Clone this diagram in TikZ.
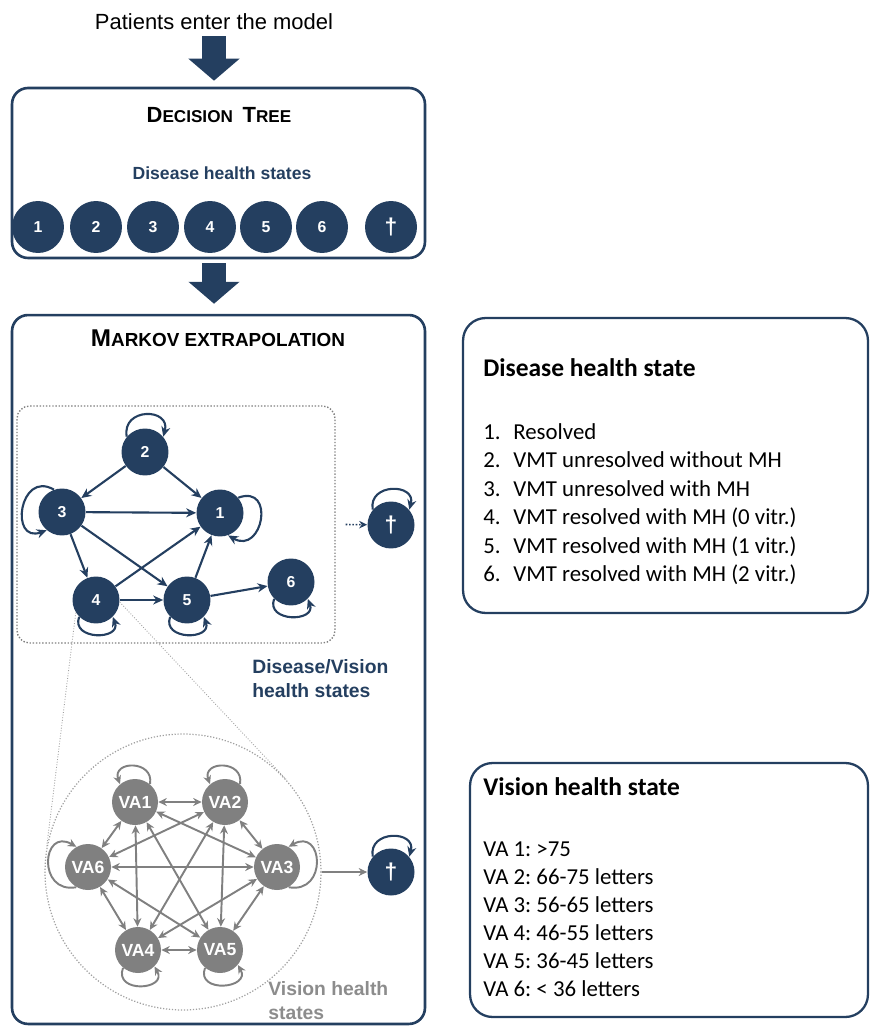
\documentclass[tikz,border=0pt]{standalone}
\usepackage{fontspec}
\setmainfont{Liberation Sans}
\newfontfamily\calibri{Carlito}
\usetikzlibrary{arrows.meta, positioning}

\definecolor{navy}{HTML}{243F60}
\definecolor{vagray}{HTML}{808080}
\definecolor{dotgray}{HTML}{A0A0A0}
\definecolor{labelgray}{HTML}{8C8C8C}

\newcommand{\capsc}[3][12.5]{{\fontsize{#1}{14}\selectfont #2}{\fontsize{\fpeval{0.78*#1}}{12}\selectfont #3}}
\newcommand{\numitem}[2]{\makebox[0.6cm][l]{#1}#2}

\begin{document}
\begin{tikzpicture}[
    x=0.02cm, y=-0.02cm,
    bigbox/.style={draw=navy, line width=1.5pt, rounded corners=0.32cm, minimum width=8.26cm},
    legend/.style={draw=navy, line width=1.3pt, rounded corners=0.45cm},
    state/.style={circle, fill=navy, text=white, inner sep=0, minimum size=1.04cm, font=\bfseries\fontsize{9}{9}\selectfont},
    mstate/.style={state, minimum size=0.94cm},
    vastate/.style={circle, fill=vagray, text=white, inner sep=0, minimum size=0.92cm, font=\bfseries\fontsize{10}{10}\selectfont},
    bigarrow/.style={navy, line width=0.48cm, -{Triangle[length=0.44cm, width=1cm]}},
    arrow/.style={navy, line width=1.2pt, -{Stealth[length=2mm, width=1.8mm]}},
    dotarrow/.style={navy, line width=0.9pt, densely dotted, -{Stealth[length=1.6mm, width=1.5mm]}},
    vaarrow/.style={vagray, line width=1.1pt, {Stealth[length=1.7mm, width=1.6mm]}-{Stealth[length=1.7mm, width=1.6mm]}},
    valoop/.style={vagray, line width=1.1pt, -{Stealth[length=1.7mm, width=1.6mm]}},
    zoomline/.style={dotgray, line width=0.5pt, densely dotted},
    textstyle/.style={inner sep=0, anchor=north west, align=left}
]
\useasboundingbox (0,0) rectangle (870,1026);

% Entry
\node[font=\fontsize{12.5}{15}\selectfont] (entry) at (214,22) {Patients enter the model};

% Decision tree
\node[bigbox, minimum height=3.4cm] (dtree) at (218.5,173) {};
\node[font=\bfseries] (dtitle) at (219,115) {\capsc{D}{ECISION}\ \ \capsc{T}{REE}};
\node[font=\bfseries\fontsize{10}{12}\selectfont, text=navy] (dlabel) at (222,173) {Disease health states};
\node[state] (d1) at (38,227) {\raisebox{-2pt}{1}};
\node[state] (d2) at (96,227) {\raisebox{-2pt}{2}};
\node[state] (d3) at (153,227) {\raisebox{-2pt}{3}};
\node[state] (d4) at (210,227) {\raisebox{-2pt}{4}};
\node[state] (d5) at (266,227) {\raisebox{-2pt}{5}};
\node[state] (d6) at (322,227) {\raisebox{-2pt}{6}};
\node[state, font=\bfseries\fontsize{13}{13}\selectfont] (dD) at (391,227) {\textdagger};
\draw[bigarrow, shorten >=0.12cm] (entry.south) -- (entry.south |- dtree.north);

% Markov extrapolation
\node[bigbox, minimum height=14.18cm] (markov) at (218.5,669.5) {};
\draw[bigarrow, shorten <=0.08cm, shorten >=0.2cm] (entry.south |- dtree.south) -- (entry.south |- markov.north);
\node[font=\bfseries] (mtitle) at (218,338) {\capsc[13.8]{M}{ARKOV EXTRAPOLATION}};
\node[draw=gray, densely dotted, line width=0.8pt, rounded corners=0.25cm, minimum width=6.36cm, minimum height=4.74cm] (dbox) at (176,524.5) {};
\node[mstate] (m2) at (145,452) {2};
\node[mstate] (m3) at (62,512) {3};
\node[mstate] (m1) at (220,513) {1};
\node[mstate] (m4) at (96,600) {4};
\node[mstate] (m5) at (187,600) {5};
\node[mstate] (m6) at (291,582) {6};
\node[mstate, font=\bfseries\fontsize{13}{13}\selectfont] (mD) at (391,525) {\textdagger};
\draw[arrow] (m2) -- (m3);
\draw[arrow] (m2) -- (m1);
\draw[arrow] (m3) -- (m1);
\draw[arrow] (m3) -- (m4);
\draw[arrow] (m3) -- (m5);
\draw[arrow] (m4) -- (m1);
\draw[arrow] (m4) -- (m5);
\draw[arrow] (m5) -- (m1);
\draw[arrow] (m5) -- (m6);
\draw[arrow] (m2.140) to[out=100, in=75, distance=0.6cm] (m2.40);
\draw[arrow] (m3.110) to[out=150, in=200, distance=0.8cm] (m3.230);
\draw[arrow] (m1.40) to[out=20, in=-30, distance=0.8cm] (m1.290);
\draw[arrow] (m4.225) to[out=-110, in=-70, distance=0.5cm] (m4.315);
\draw[arrow] (m5.225) to[out=-110, in=-70, distance=0.5cm] (m5.315);
\draw[arrow] (m6.225) to[out=-110, in=-70, distance=0.5cm] (m6.315);
\draw[arrow] (mD.140) to[out=100, in=75, distance=0.55cm] (mD.40);
\draw[dotarrow] ([xshift=0.2cm]dbox.east) -- (mD);
\node[textstyle, font=\bfseries\fontsize{11}{13.5}\selectfont, text=navy] (dvlabel) at (252,659) {Disease/Vision\\health states};

% Vision health states
\node[circle, draw=dotgray, densely dotted, line width=0.7pt, minimum size=5.52cm] (zoomc) at (183,872) {};
\draw[zoomline] (m4.212) -- (zoomc.170);
\draw[zoomline] (m4.355) -- (zoomc.42);
\node[vastate] (va1) at (135,802) {VA1};
\node[vastate] (va2) at (225,802) {VA2};
\node[vastate] (va3) at (277,867) {VA3};
\node[vastate] (va6) at (88,867) {VA6};
\node[vastate] (va4) at (138,950) {VA4};
\node[vastate] (va5) at (220,950) {VA5};
\draw[vaarrow] (va1) -- (va2);
\draw[vaarrow] (va1) -- (va3);
\draw[vaarrow] (va1) -- (va4);
\draw[vaarrow] (va1) -- (va5);
\draw[vaarrow] (va1) -- (va6);
\draw[vaarrow] (va2) -- (va3);
\draw[vaarrow] (va2) -- (va4);
\draw[vaarrow] (va2) -- (va5);
\draw[vaarrow] (va2) -- (va6);
\draw[vaarrow] (va3) -- (va4);
\draw[vaarrow] (va3) -- (va5);
\draw[vaarrow] (va3) -- (va6);
\draw[vaarrow] (va4) -- (va5);
\draw[vaarrow] (va4) -- (va6);
\draw[vaarrow] (va5) -- (va6);
\draw[valoop] (va1.50) to[out=80, in=110, distance=0.5cm] (va1.130);
\draw[valoop] (va2.50) to[out=80, in=110, distance=0.5cm] (va2.130);
\draw[valoop] (va3.-60) to[out=-10, in=30, distance=0.8cm] (va3.60);
\draw[valoop] (va6.240) to[out=190, in=150, distance=0.8cm] (va6.120);
\draw[valoop] (va4.230) to[out=-110, in=-60, distance=0.55cm] (va4.315);
\draw[valoop] (va5.230) to[out=-110, in=-60, distance=0.55cm] (va5.320);
\node[mstate, font=\bfseries\fontsize{13}{13}\selectfont] (vD) at (391,872) {\textdagger};
\draw[valoop, line width=0.6pt] (zoomc.east) -- (vD);
\draw[arrow] (vD.140) to[out=100, in=75, distance=0.55cm] (vD.40);
\node[textstyle, font=\bfseries\fontsize{11}{13.5}\selectfont, text=labelgray] (vlabel) at (268,981) {Vision health\\states};

% Legend: disease health state
\node[legend, minimum width=8.1cm, minimum height=5.9cm] (disbox) at (665.5,465.5) {};
\node[font=\calibri\bfseries\fontsize{14.5}{17}\selectfont, anchor=west, inner sep=0] (distitle) at (483,368) {Disease health state};
\node[textstyle, font=\calibri\fontsize{13}{16.2}\selectfont] (dislist) at (483,423) {\numitem{1.}{Resolved}\\
\numitem{2.}{VMT unresolved without MH}\\
\numitem{3.}{VMT unresolved with MH}\\
\numitem{4.}{VMT resolved with MH (0 vitr.)}\\
\numitem{5.}{VMT resolved with MH (1 vitr.)}\\
\numitem{6.}{VMT resolved with MH (2 vitr.)}};

% Legend: vision health state
\node[legend, minimum width=7.96cm, minimum height=5.08cm] (visbox) at (669,890) {};
\node[font=\calibri\bfseries\fontsize{14.5}{17}\selectfont, anchor=west, inner sep=0] (vistitle) at (483,787) {Vision health state};
\node[textstyle, font=\calibri\fontsize{13}{16}\selectfont] (vislist) at (483,841) {VA 1:~>75\\
VA 2:~66-75 letters\\
VA 3:~56-65 letters\\
VA 4:~46-55 letters\\
VA 5:~36-45 letters\\
VA 6:~< 36 letters};

\end{tikzpicture}
\end{document}
